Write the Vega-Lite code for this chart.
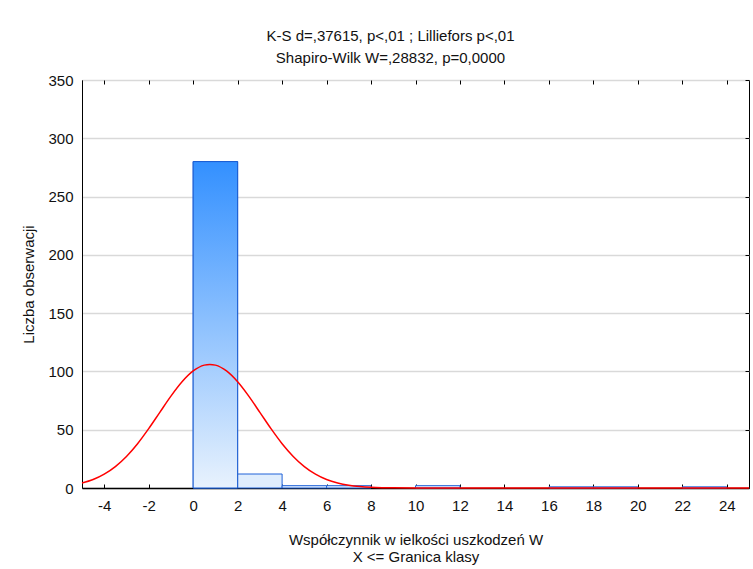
{
  "$schema": "https://vega.github.io/schema/vega-lite/v6.json",
  "width": 667,
  "height": 408,
  "autosize": "none",
  "padding": {"left": 82, "top": 80, "right": 4, "bottom": 81},
  "background": "white",
  "config": {
    "font": "Liberation Sans",
    "view": {"stroke": "black", "strokeWidth": 1},
    "axis": {
      "domainColor": "black",
      "tickColor": "black",
      "labelColor": "#111111",
      "titleColor": "#111111",
      "labelFont": "Liberation Sans",
      "titleFont": "Liberation Sans",
      "labelFontSize": 15,
      "titleFontSize": 15,
      "titleFontWeight": "normal",
      "gridColor": "#d9d9d9",
      "gridWidth": 1.5
    }
  },
  "title": {
    "text": ["K-S d=,37615, p<,01 ; Lilliefors p<,01", "Shapiro-Wilk W=,28832, p=0,0000"],
    "font": "Liberation Sans",
    "fontSize": 15,
    "fontWeight": "normal",
    "color": "#111111",
    "lineHeight": 22,
    "anchor": "middle",
    "dx": -25,
    "offset": 7
  },
  "datasets": {
    "bars": [
      {"start": 0, "end": 2, "count": 280},
      {"start": 2, "end": 4, "count": 12},
      {"start": 4, "end": 6, "count": 2},
      {"start": 6, "end": 8, "count": 2},
      {"start": 10, "end": 12, "count": 2},
      {"start": 16, "end": 18, "count": 1},
      {"start": 18, "end": 20, "count": 1},
      {"start": 22, "end": 24, "count": 1}
    ],
    "curve": [
      {"x": -5, "y": 4.3}, {"x": -4.5, "y": 7.3}, {"x": -4, "y": 11.9}, {"x": -3.5, "y": 18.4},
      {"x": -3, "y": 27.1}, {"x": -2.5, "y": 38.0}, {"x": -2, "y": 50.9}, {"x": -1.5, "y": 64.9},
      {"x": -1, "y": 78.8}, {"x": -0.5, "y": 91.1}, {"x": 0, "y": 100.4}, {"x": 0.5, "y": 105.4},
      {"x": 0.75, "y": 106}, {"x": 1, "y": 105.4}, {"x": 1.5, "y": 100.4}, {"x": 2, "y": 91.1},
      {"x": 2.5, "y": 78.8}, {"x": 3, "y": 64.9}, {"x": 3.5, "y": 50.9}, {"x": 4, "y": 38.0},
      {"x": 4.5, "y": 27.1}, {"x": 5, "y": 18.4}, {"x": 5.5, "y": 11.9}, {"x": 6, "y": 7.3},
      {"x": 6.5, "y": 4.3}, {"x": 7, "y": 2.4}, {"x": 7.5, "y": 1.3}, {"x": 8, "y": 0.65},
      {"x": 8.5, "y": 0.31}, {"x": 9, "y": 0.14}, {"x": 10, "y": 0.02}, {"x": 12, "y": 0},
      {"x": 25, "y": 0}
    ]
  },
  "layer": [
    {
      "data": {"name": "bars"},
      "mark": {"type": "bar", "fill": "#dfedfd", "stroke": "#2062d8", "strokeWidth": 1},
      "encoding": {
        "x": {
          "field": "start", "type": "quantitative",
          "scale": {"domain": [-5, 25], "nice": false, "zero": false},
          "axis": {
            "orient": "bottom",
            "values": [-4, -2, 0, 2, 4, 6, 8, 10, 12, 14, 16, 18, 20, 22, 24],
            "labelExpr": "datum.value < 0 ? '-' + abs(datum.value) : '' + datum.value",
            "grid": false,
            "tickSize": -4,
            "labelPadding": 14,
            "domainWidth": 1.5,
            "title": ["Współczynnik w ielkości uszkodzeń W", "X <= Granica klasy"],
            "titleLineHeight": 17,
            "titlePadding": 19
          }
        },
        "x2": {"field": "end"},
        "y": {
          "field": "count", "type": "quantitative",
          "scale": {"domain": [0, 350], "nice": false},
          "axis": {
            "orient": "left",
            "values": [0, 50, 100, 150, 200, 250, 300, 350],
            "grid": true,
            "ticks": false,
            "labelPadding": 9,
            "title": "Liczba obserwacji",
            "titlePadding": 11
          }
        },
        "y2": {"datum": 0}
      }
    },
    {
      "data": {"name": "bars"},
      "transform": [{"filter": "datum.count > 100"}],
      "mark": {
        "type": "bar",
        "stroke": "#1a5cd0",
        "strokeWidth": 1,
        "fill": {
          "gradient": "linear", "x1": 0, "y1": 0, "x2": 0, "y2": 1,
          "stops": [
            {"offset": 0, "color": "#3390ff"},
            {"offset": 1, "color": "#e8f2fd"}
          ]
        }
      },
      "encoding": {
        "x": {"field": "start", "type": "quantitative", "scale": {"domain": [-5, 25], "nice": false, "zero": false}, "axis": null},
        "x2": {"field": "end"},
        "y": {"field": "count", "type": "quantitative", "scale": {"domain": [0, 350], "nice": false}, "axis": null},
        "y2": {"datum": 0}
      }
    },
    {
      "data": {"name": "curve"},
      "mark": {"type": "line", "color": "#ff0000", "strokeWidth": 1.5, "interpolate": "monotone"},
      "encoding": {
        "x": {
          "field": "x", "type": "quantitative",
          "scale": {"domain": [-5, 25], "nice": false, "zero": false},
          "axis": {
            "orient": "top",
            "values": [-4, -2, 0, 2, 4, 6, 8, 10, 12, 14, 16, 18, 20, 22, 24],
            "labels": false,
            "grid": false,
            "domain": false,
            "tickSize": -4,
            "title": null
          }
        },
        "y": {
          "field": "y", "type": "quantitative",
          "scale": {"domain": [0, 350], "nice": false},
          "axis": {
            "orient": "right",
            "values": [0, 50, 100, 150, 200, 250, 300, 350],
            "labels": false,
            "grid": false,
            "domain": false,
            "tickSize": -4,
            "title": null
          }
        }
      }
    }
  ],
  "resolve": {"axis": {"x": "independent", "y": "independent"}}
}
